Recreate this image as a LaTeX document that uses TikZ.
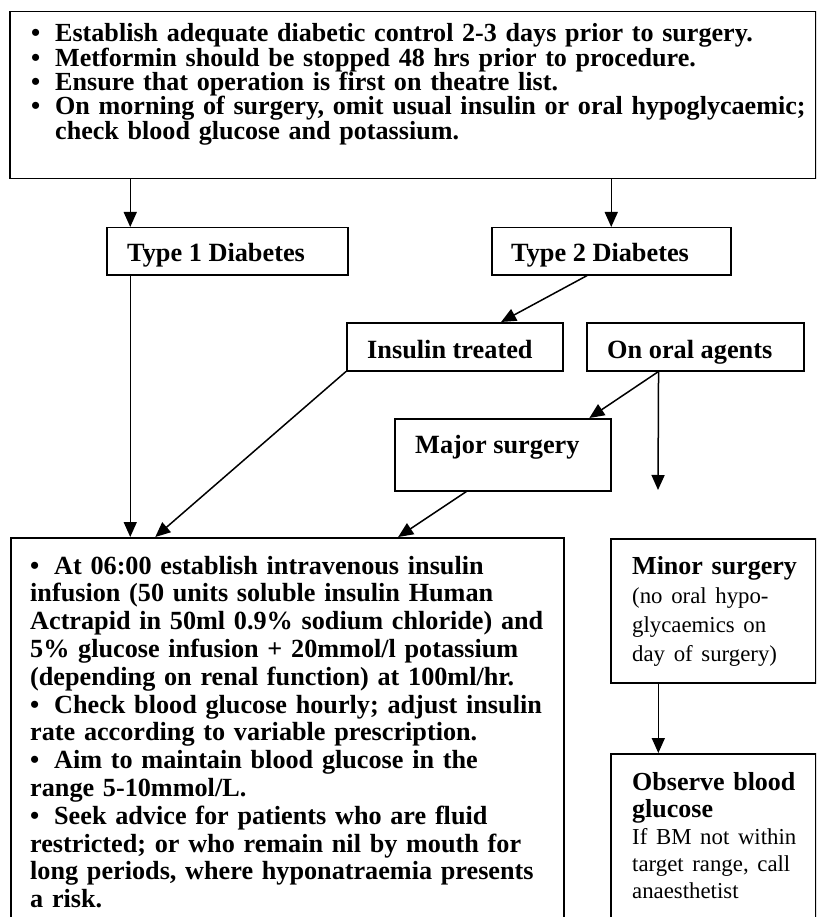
\documentclass[tikz,border=0pt]{standalone}
\usepackage{fontspec}
\setmainfont{Liberation Serif}
\usetikzlibrary{arrows.meta,calc}
\begin{document}
\begin{tikzpicture}[x=1pt,y=-1pt,
  box/.style={draw, line width=1.5pt, inner sep=0pt, anchor=north west},
  conn/.style={line width=1.5pt, -{Triangle[length=15pt,width=13pt]}},
  txt/.style={inner sep=0pt, anchor=base west, align=left},
  lbl/.style={txt, font=\bfseries\fontsize{26.3}{29}\selectfont},
]
\clip (0,0) rectangle (816,917);
\fill[white] (0,0) rectangle (816,917);

% boxes
\node[box, minimum width=806pt, minimum height=167pt] (top) at (9,11) {};
\node[box, minimum width=241pt, minimum height=47pt] (type1) at (106,227) {};
\node[box, minimum width=239pt, minimum height=47pt] (type2) at (491,227) {};
\node[box, minimum width=216pt, minimum height=48pt] (insulin) at (346,322) {};
\node[box, minimum width=217pt, minimum height=48pt] (oral) at (586,322) {};
\node[box, minimum width=216pt, minimum height=72pt] (major) at (394,418) {};
\node[box, minimum width=553pt, minimum height=420pt] (main) at (10,537) {};
\node[box, minimum width=205pt, minimum height=144pt] (minor) at (610,538) {};
\node[box, minimum width=205pt, minimum height=200pt] (observe) at (610,753) {};

% texts
\newcommand{\bl}{\makebox[24pt][l]{\textbullet}}
\node[txt, text width=800pt, font=\bfseries\fontsize{26.1}{24.3}\selectfont] (toptxt) at (31,42) {%
\bl Establish adequate diabetic control 2-3 days prior to surgery.\\
\bl Metformin should be stopped 48 hrs prior to procedure.\\
\bl Ensure that operation is first on theatre list.\\
\bl On morning of surgery, omit usual insulin or oral hypoglycaemic;\\
\hspace*{24pt}check blood glucose and potassium.};

\node[lbl] (t1txt) at (127,261) {Type 1 Diabetes};
\node[lbl] (t2txt) at (511,261) {Type 2 Diabetes};
\node[lbl] (instxt) at (367,358) {Insulin treated};
\node[lbl] (oraltxt) at (607,358) {On oral agents};
\node[lbl] (majtxt) at (415,453) {Major surgery};

\node[txt, text width=600pt, font=\bfseries\fontsize{26.2}{27.8}\selectfont] (maintxt) at (30,574) {%
\bl At 06:00 establish intravenous insulin\\
infusion (50 units soluble insulin Human\\
Actrapid in 50ml 0.9\% sodium chloride) and\\
5\% glucose infusion + 20mmol/l potassium\\
(depending on renal function) at 100ml/hr.\\
\bl Check blood glucose hourly; adjust insulin\\
rate according to variable prescription.\\
\bl Aim to maintain blood glucose in the\\
range 5-10mmol/L.\\
\bl Seek advice for patients who are fluid\\
restricted; or who remain nil by mouth for\\
long periods, where hyponatraemia presents\\
a risk.};

\node[txt, text width=200pt, font=\bfseries\fontsize{26}{29}\selectfont] (minortxt) at (632,574) {%
Minor surgery\\
\mdseries\fontsize{22.8}{29}\selectfont (no oral hypo-\\
glycaemics on\\
day of surgery)};

\node[txt, text width=200pt, font=\bfseries\fontsize{26}{27}\selectfont] (obstxt) at (632,790) {%
Observe blood\\
glucose\\
\mdseries\fontsize{22.8}{27}\selectfont If BM not within\\
target range, call\\
anaesthetist};

% connector end points
\coordinate (t1x) at ($(type1.north west)!0.1!(type1.north east)$);
\coordinate (t2out) at ($(type2.south west)!0.4!(type2.south east)$);
\coordinate (insin) at ($(insulin.north west)!0.713!(insulin.north east)$);
\coordinate (mainA) at ($(main.north west)!0.262!(main.north east)$);
\coordinate (mainB) at ($(main.north west)!0.70!(main.north east)$);
\coordinate (oralout) at ($(oral.south west)!0.332!(oral.south east)$);
\coordinate (majin) at ($(major.north west)!0.898!(major.north east)$);
\coordinate (majout) at ($(major.south west)!0.333!(major.south east)$);
\coordinate (oralend) at (658,490);
\coordinate (minx) at ($(minor.south west)!0.234!(minor.south east)$);

% connectors
\draw[conn] (top.south -| t1x) -- (t1x);
\draw[conn] (top.south -| type2.north) -- (type2.north);
\draw[conn] (type1.south -| t1x) -- (main.north -| t1x);
\draw[conn] (t2out) -- (insin);
\draw[conn] (insulin.south west) -- (mainA);
\draw[conn] (oralout) -- (majin);
\draw[conn] (oralout) -- (oralend);
\draw[conn] (majout) -- (mainB);
\draw[conn] (minx) -- (observe.north -| minx);
\end{tikzpicture}
\end{document}
